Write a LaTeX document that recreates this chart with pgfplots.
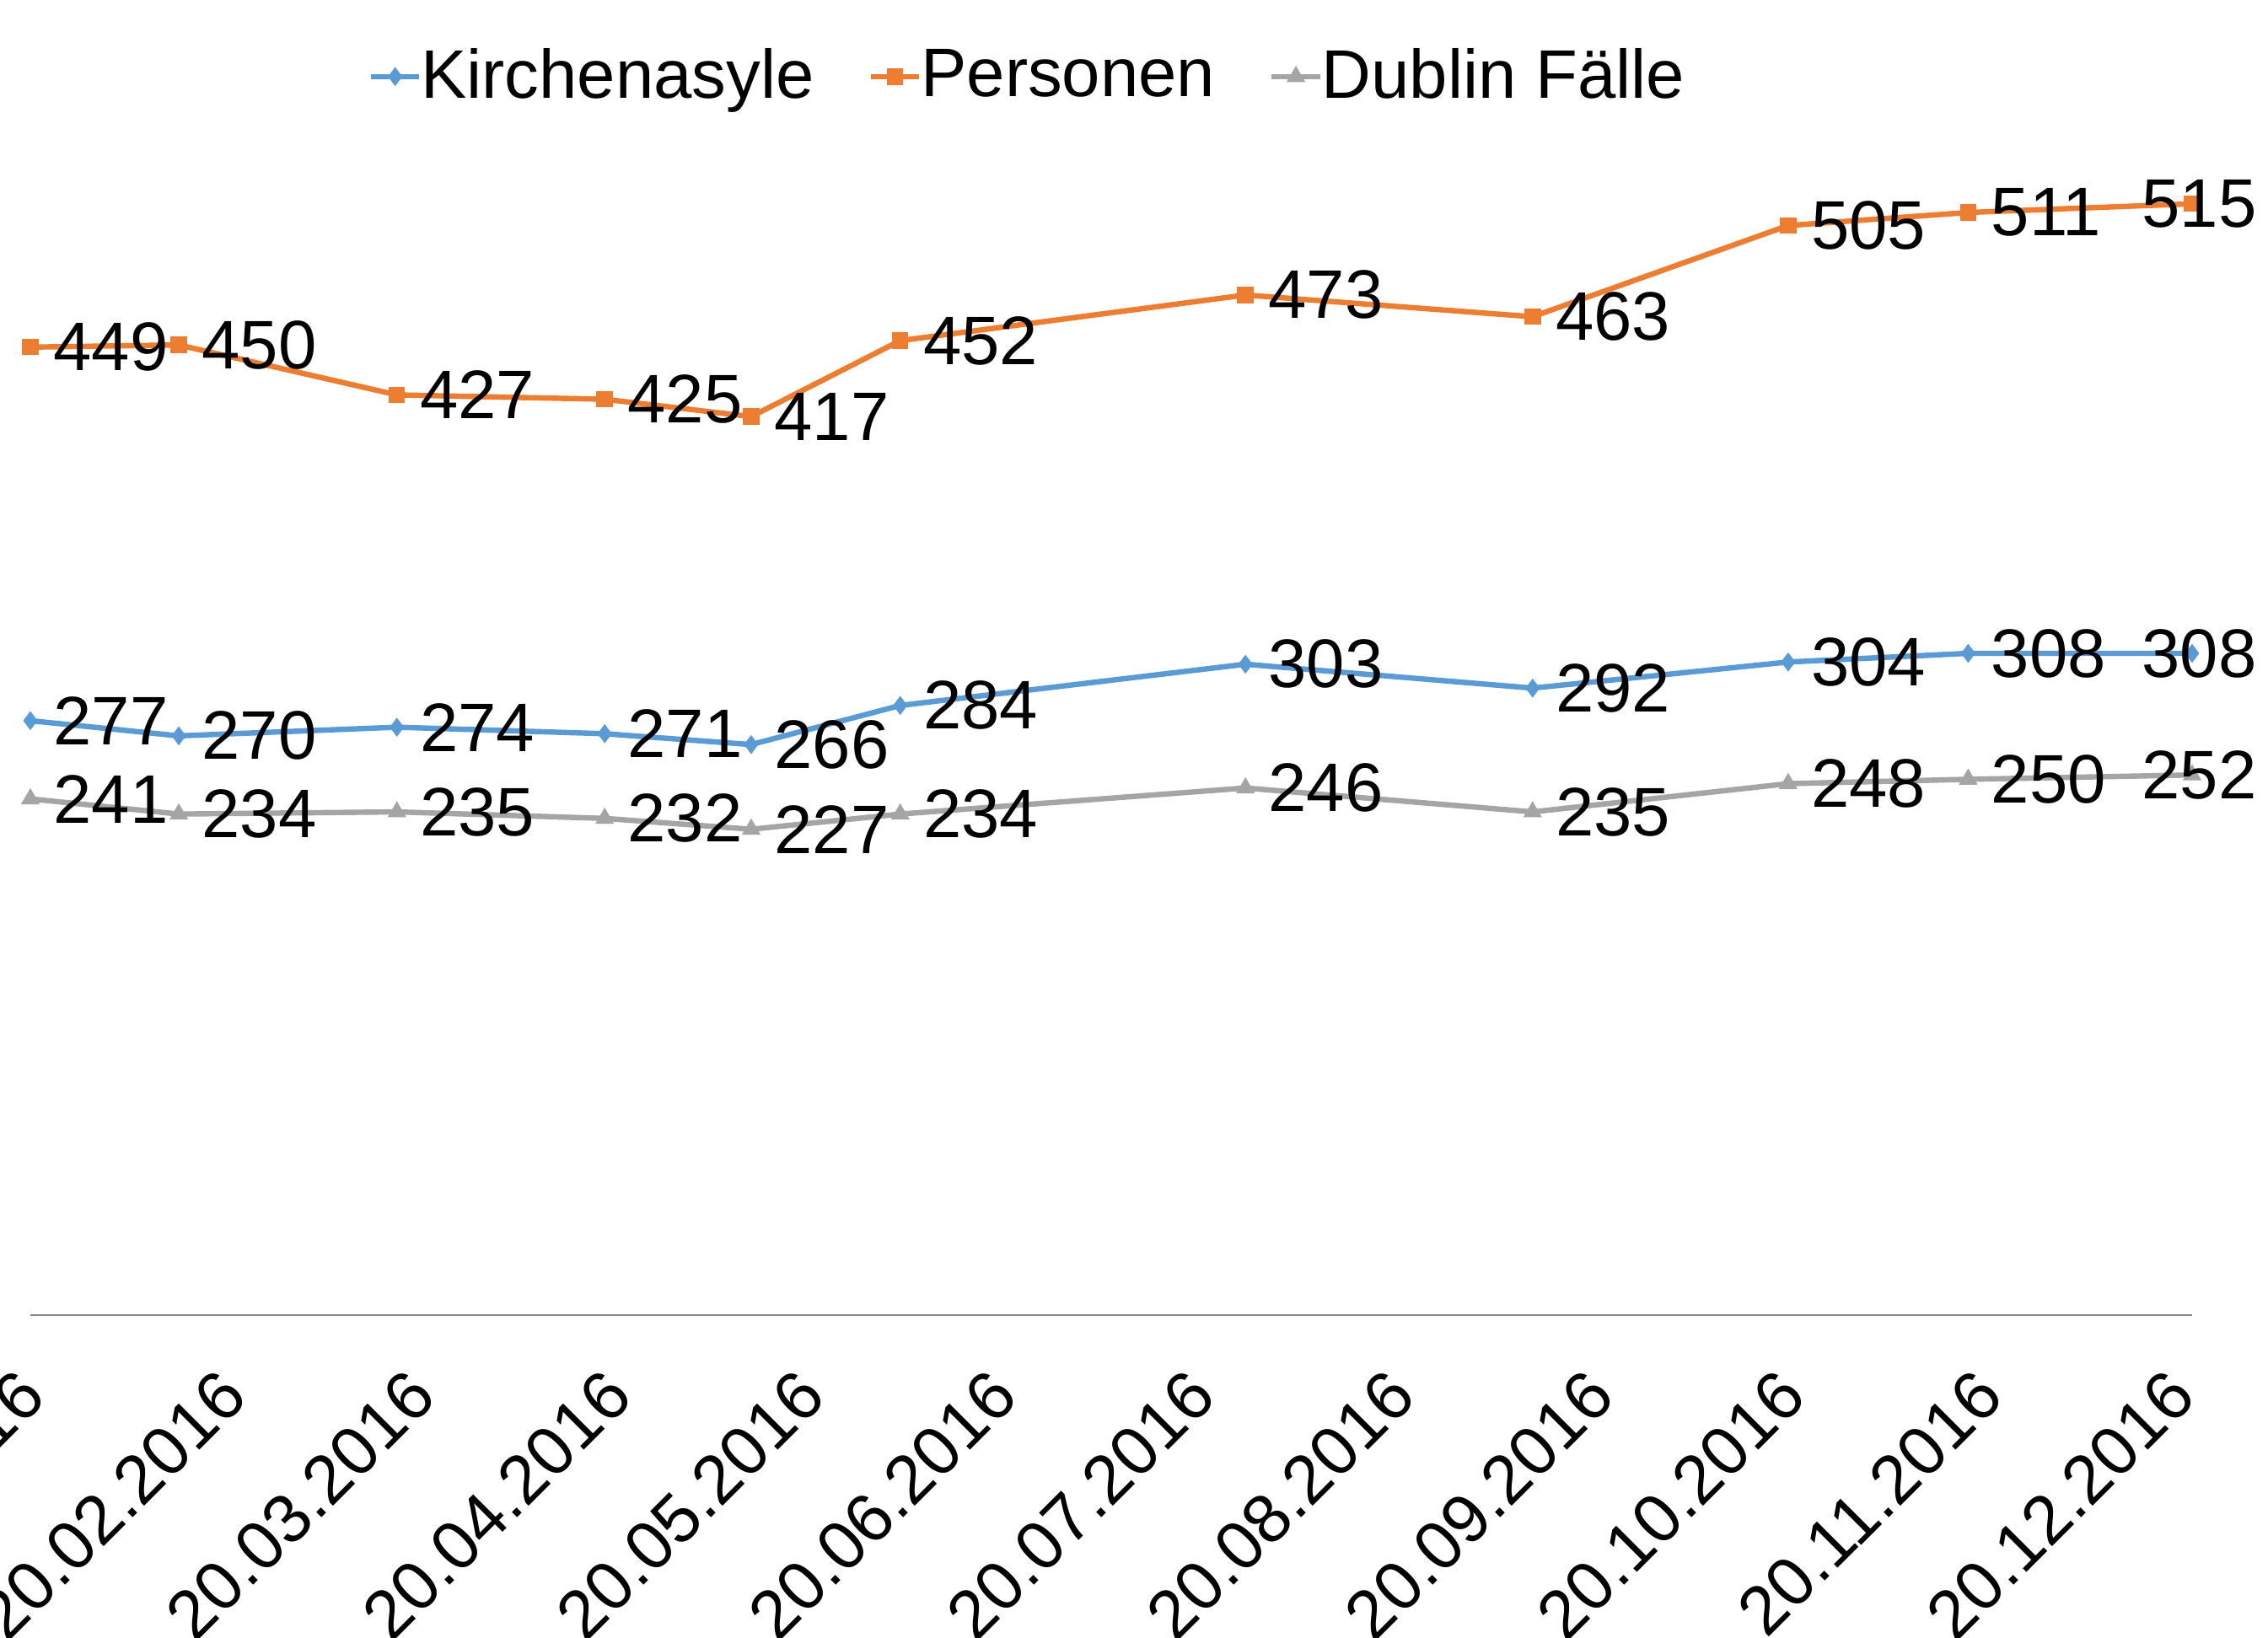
\documentclass[border=0pt]{standalone}
\usepackage{fontspec}
\setmainfont{Liberation Sans}
\usepackage{pgfplots}
\usepackage{pgfplotstable}
\pgfplotsset{compat=1.18}
\definecolor{cK}{HTML}{5B9BD5}
\definecolor{cP}{HTML}{ED7D31}
\definecolor{cD}{HTML}{A5A5A5}
\definecolor{cAx}{HTML}{868686}

\pgfplotstableread{
day k p d dx
0 277 449 241 0
23 270 450 234 0
56.8 274 427 235 0
89 271 425 232 0
111.7 266 417 227 0
134.8 284 452 234 0
188.3 303 473 246 0
232.8 292 463 235 0
272.4 304 505 248 0
300.3 308 511 250 0
335 308 515 252 -15.2
}\data

\newcommand\fs{\fontsize{14.25pt}{17pt}\selectfont}

\begin{document}
\begin{tikzpicture}
\useasboundingbox (0,0) rectangle (470.4pt,339.6pt);
\clip (0,0) rectangle (470.4pt,339.6pt);
\begin{axis}[
  at={(6.3pt,66.81pt)}, anchor=south west,
  scale only axis, width=448.35pt, height=268.8pt,
  xmin=0, xmax=335, ymin=3.3, ymax=600,
  clip=false,
  axis x line*=bottom, axis y line=none,
  x axis line style={draw=cAx, line width=0.5pt},
  major tick length=0pt,
  xtick={1.55,32.77,61.96,92.38,122.37,152.21,182.92,213.85,244.63,274.34,304.87,334.7},
  xticklabels={20.01.2016,20.02.2016,20.03.2016,20.04.2016,20.05.2016,20.06.2016,20.07.2016,20.08.2016,20.09.2016,20.10.2016,20.11.2016,20.12.2016},
  xticklabel style={font=\fs, inner sep=0pt, xshift=1.9pt, yshift=-17.5pt, rotate=45, anchor=base east},
  /pgf/number format/assume math mode=true,
  legend columns=3,
  legend cell align=left,
  legend style={draw=none, fill=none, at={(0.14922,0.9557)}, anchor=west, font=\fs,
    /tikz/every odd column/.append style={column sep=-2.2pt},
    /tikz/every even column/.append style={column sep=9.2pt}},
  legend image code/.code={\draw[mark repeat=2,mark phase=2] plot coordinates {(0pt,0pt) (5pt,0pt) (10pt,0pt)};},
]
\addplot[cK, line width=1.12pt, mark=diamond*, mark size=1.65pt, mark options={solid, line width=0.4pt},
  nodes near coords, point meta=y,
  visualization depends on={\thisrow{dx} \as \dx},
  every node near coord/.append style={font=\fs, text=black, inner sep=0pt, anchor=west, xshift={(4.6+\dx)*1pt}}]
  table[x=day, y=k] {\data};
\addlegendentry{Kirchenasyle}
\addplot[cP, line width=1.12pt, mark=square*, mark size=1.5pt, mark options={solid, line width=0.4pt},
  nodes near coords, point meta=y,
  visualization depends on={\thisrow{dx} \as \dx},
  every node near coord/.append style={font=\fs, text=black, inner sep=0pt, anchor=west, xshift={(4.6+\dx)*1pt}}]
  table[x=day, y=p] {\data};
\addlegendentry{Personen}
\addplot[cD, line width=1.12pt, mark=triangle*, mark size=1.85pt, mark options={solid, line width=0.4pt},
  nodes near coords, point meta=y,
  visualization depends on={\thisrow{dx} \as \dx},
  every node near coord/.append style={font=\fs, text=black, inner sep=0pt, anchor=west, xshift={(4.6+\dx)*1pt}}]
  table[x=day, y=d] {\data};
\addlegendentry{Dublin Fälle}
\end{axis}
\end{tikzpicture}
\end{document}
